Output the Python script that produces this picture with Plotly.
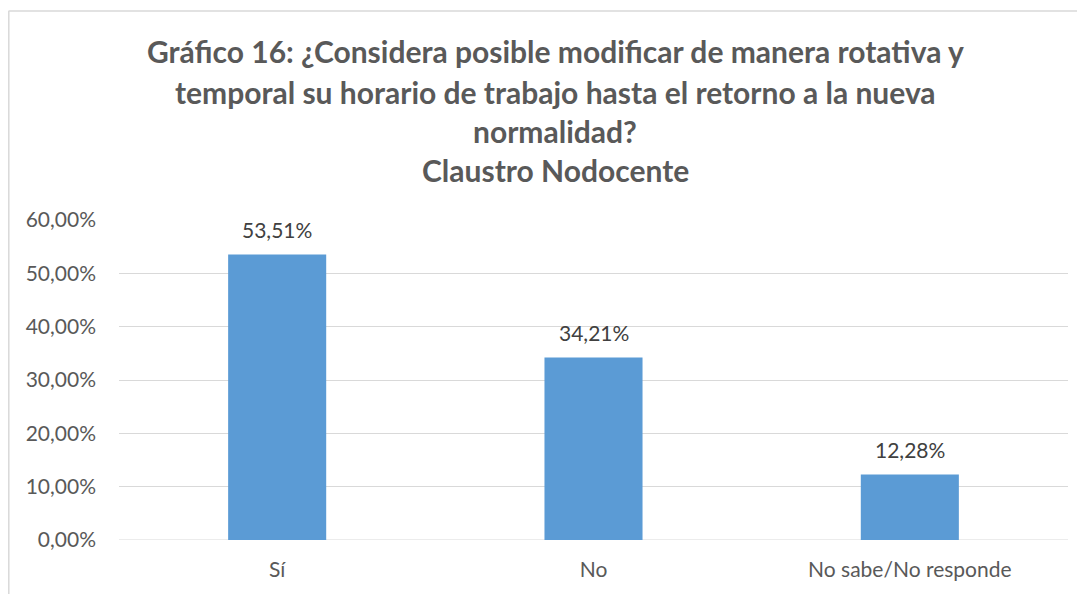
import plotly.graph_objects as go

categories = ["Sí", "No", "No sabe/No responde"]
values = [0.5351, 0.3421, 0.1228]
title_lines = [
    "Gráfico 16: ¿Considera posible modificar de manera rotativa y",
    "temporal su horario de trabajo hasta el retorno a la nueva",
    "normalidad?",
    "Claustro Nodocente",
]
tick_vals = [0, 0.1, 0.2, 0.3, 0.4, 0.5, 0.6]

W, H = 1085, 594
OFF = 8  # page body margin offset
PW, PH = 949, 320
ML, MT = 119 - OFF, 220 - OFF
MR, MB = W - ML - PW, H - MT - PH

def px_x(p):
    # p in page pixels
    return (p - OFF - ML) / PW

def px_y(p):
    return (MT + PH - (p - OFF)) / PH

FONT = "Lato"
GRAY = "#595959"
FS = 21

fig = go.Figure()
fig.add_trace(go.Bar(
    x=categories, y=values, width=0.31,
    marker=dict(color="#5B9BD5", line=dict(width=0)),
    hoverinfo="skip",
))

annotations = []
for c, v in zip(categories, values):
    annotations.append(dict(
        x=c, y=v, xref="x", yref="y", yanchor="bottom", yshift=11,
        text=f"{v*100:.2f}%".replace(".", ","), showarrow=False,
        font=dict(family=FONT, size=FS, color="#404040"),
    ))

line_y = [51, 92, 131, 170]
for t, yy in zip(title_lines, line_y):
    annotations.append(dict(
        x=px_x(555), y=px_y(yy), xref="paper", yref="paper",
        xanchor="center", yanchor="middle", text=f"<b>{t}</b>", showarrow=False,
        font=dict(family=FONT, size=30, color=GRAY),
    ))

shapes = [
    dict(type="line", xref="paper", yref="paper",
         x0=px_x(8.5), x1=px_x(W + 20), y0=px_y(11), y1=px_y(11),
         line=dict(color="#D9D9D9", width=1.5)),
    dict(type="line", xref="paper", yref="paper",
         x0=px_x(8.8), x1=px_x(8.8), y0=px_y(11), y1=px_y(H + 20),
         line=dict(color="#D9D9D9", width=1.5)),
]

fig.update_layout(
    width=W, height=H,
    margin=dict(l=ML, r=MR, t=MT, b=MB, autoexpand=False),
    paper_bgcolor="white", plot_bgcolor="white",
    separators=",.",
    showlegend=False,
    annotations=annotations,
    shapes=shapes,
    font=dict(family=FONT, color=GRAY),
    xaxis=dict(
        showgrid=False, zeroline=False, showline=False,
        tickfont=dict(family=FONT, size=FS, color=GRAY),
        ticks="", ticklabelstandoff=15, fixedrange=True,
    ),
    yaxis=dict(
        range=[0, 0.6], tickvals=tick_vals, tickformat=".2%",
        showgrid=True, gridcolor="#D9D9D9", gridwidth=1,
        zeroline=False, showline=False,
        tickfont=dict(family=FONT, size=FS, color=GRAY),
        ticks="", ticklabelstandoff=22, fixedrange=True,
    ),
)
fig.add_hline(y=0, line=dict(color="#D9D9D9", width=1), layer="below")

fig.write_html("out.html", config={"displayModeBar": False})
